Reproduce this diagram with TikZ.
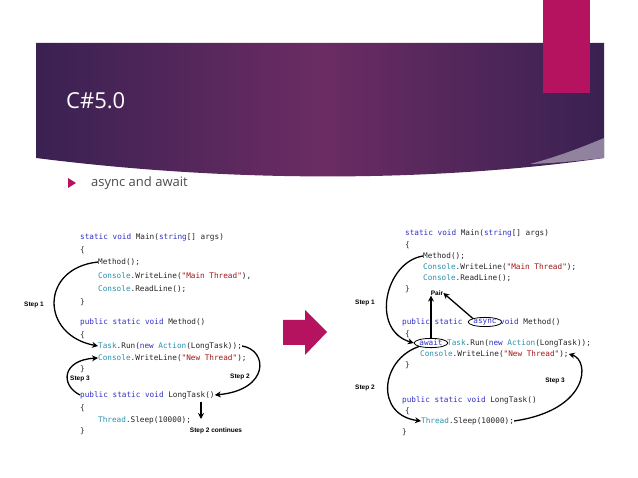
\documentclass[tikz,border=0pt]{standalone}
\usepackage{fontspec}
\setmainfont{Open Sans}
\newfontfamily\codefont{DejaVu Sans Mono}
\newfontfamily\labfont{Liberation Sans}
\usetikzlibrary{arrows.meta,shapes.geometric}
\definecolor{kwc}{HTML}{3030C8}
\definecolor{tyc}{HTML}{2B91AF}
\definecolor{stc}{HTML}{A31515}
\definecolor{bandA}{HTML}{3A2152}
\definecolor{bandB}{HTML}{6B2C63}
\definecolor{pinkc}{HTML}{B5135F}
\newcommand{\kwd}[1]{\textcolor{kwc}{#1}}
\newcommand{\typ}[1]{\textcolor{tyc}{#1}}
\newcommand{\strg}[1]{\textcolor{stc}{#1}}
\begin{document}
\begin{tikzpicture}[x=1pt,y=-1pt,
  code/.style={anchor=west,inner sep=0pt,font=\codefont\fontsize{7.7}{8}\selectfont,text=black!85},
  lab/.style={inner sep=0pt,font=\labfont\bfseries\fontsize{6.5}{7}\selectfont},
  flow/.style={line width=1.3pt,-{Stealth[length=6pt,width=6pt]}},
  ring/.style={draw,ellipse,line width=0.8pt,inner sep=0.3pt}]
\useasboundingbox (0,0) rectangle (638,478);
\fill[white] (0,0) rectangle (638,478);
% banner
\shade[left color=bandA,right color=bandA,middle color=bandB]
  (36,43) -- (604,43) -- (604,158) .. controls (450,180) and (250,185) .. (36,158) -- cycle;
\fill[white!55!bandA,opacity=0.8] (604,138) .. controls (585,146) and (560,156) .. (530,164) .. controls (560,163) and (585,160) .. (604,158) -- cycle;
\fill[pinkc] (543,0) rectangle (590,93);
\node[anchor=west,text=white,font=\fontsize{22}{24}\selectfont,inner sep=0pt] (title) at (66,101) {C\#5.0};
\fill[pinkc] (68,178) -- (76,183) -- (68,188) -- cycle;
\node[anchor=west,text=black!70,font=\fontsize{13}{15}\selectfont,inner sep=0pt] (bul) at (91,183) {async and await};
% left code
\node[code] (l1) at (80,237) {\kwd{static} \kwd{void} Main(\kwd{string}[] args)};
\node[code] (l2) at (80,250) {\{};
\node[code] (l3) at (98,262) {Method();};
\node[code] (l4) at (98,276) {\typ{Console}.WriteLine(\strg{"Main Thread"}),};
\node[code] (l5) at (98,289) {\typ{Console}.ReadLine();};
\node[code] (l6) at (80,302) {\}};
\node[code] (l7) at (80,322) {\kwd{public} \kwd{static} \kwd{void} Method()};
\node[code] (l8) at (80,335) {\{};
\node[code] (l9) at (98,346) {\typ{Task}.Run(\kwd{new} \typ{Action}(LongTask));};
\node[code] (l10) at (98,358) {\typ{Console}.WriteLine(\strg{"New Thread"});};
\node[code] (l11) at (80,369) {\}};
\node[code] (l12) at (80,395) {\kwd{public} \kwd{static} \kwd{void} LongTask()};
\node[code] (l13) at (80,408) {\{};
\node[code] (l14) at (98,420) {\typ{Thread}.Sleep(10000);};
\node[code] (l15) at (80,431) {\}};
\node[lab] (ls1) at (34,305) {Step 1};
\node[lab] (ls2) at (240,377) {Step 2};
\node[lab] (ls3) at (80,379) {Step 3};
\node[lab] (ls4) at (216,431) {Step 2 continues};
\coordinate (dn1) at (201,402);
\coordinate (dn2) at (201,419);
\draw[flow] (l3.west) .. controls (40,268) and (40,335) .. (l9.west);
\draw[flow] (l9.east) .. controls (268,350) and (270,390) .. (l12.east);
\draw[flow] (l12.west) .. controls (60,385) and (62,360) .. (l10.west);
\draw[flow] (dn1) -- (dn2);
% middle arrow
\fill[pinkc] (283,320) -- (305,320) -- (305,310) -- (327,332) -- (305,355) -- (305,345) -- (283,345) -- cycle;
% right code
\node[code] (r1) at (405,233) {\kwd{static} \kwd{void} Main(\kwd{string}[] args)};
\node[code] (r2) at (405,245) {\{};
\node[code] (r3) at (423,256) {Method();};
\node[code] (r4) at (423,267) {\typ{Console}.WriteLine(\strg{"Main Thread"});};
\node[code] (r5) at (423,278) {\typ{Console}.ReadLine();};
\node[code] (r6) at (405,289) {\}};
\node[code] (r7a) at (402,322) {\kwd{public} \kwd{static}};
\node[code,ring,anchor=center] (async) at (485,322) {\kwd{async}};
\node[code] (r7b) at (500,322) {\kwd{void} Method()};
\node[code] (r8) at (405,334) {\{};
\node[code,ring,anchor=center] (await) at (431,343) {\kwd{await}};
\node[code] (r9) at (447,343) {\typ{Task}.Run(\kwd{new} \typ{Action}(LongTask));};
\node[code] (r10) at (420,354) {\typ{Console}.WriteLine(\strg{"New Thread"});};
\node[code] (r11) at (405,365) {\}};
\node[code] (r12) at (402,400) {\kwd{public} \kwd{static} \kwd{void} LongTask()};
\node[code] (r13) at (405,411) {\{};
\node[code] (r14) at (421,421) {\typ{Thread}.Sleep(10000);};
\node[code] (r15) at (402,432) {\}};
\node[lab] (pair) at (437,293) {Pair};
\node[lab] (rs1) at (365,303) {Step 1};
\node[lab] (rs2) at (365,388) {Step 2};
\node[lab] (rs3) at (555,381) {Step 3};
\draw[flow] (r3.west) .. controls (385,262) and (370,330) .. (await.west);
\draw[flow] (await.north) -- (pair.south -| await.north);
\draw[flow] (async.north west) -- (pair.east);
\draw[flow] (await.south west) .. controls (380,360) and (375,415) .. (r14.west);
\draw[flow] (r14.east) .. controls (590,410) and (590,360) .. (r10.east);
\end{tikzpicture}
\end{document}
